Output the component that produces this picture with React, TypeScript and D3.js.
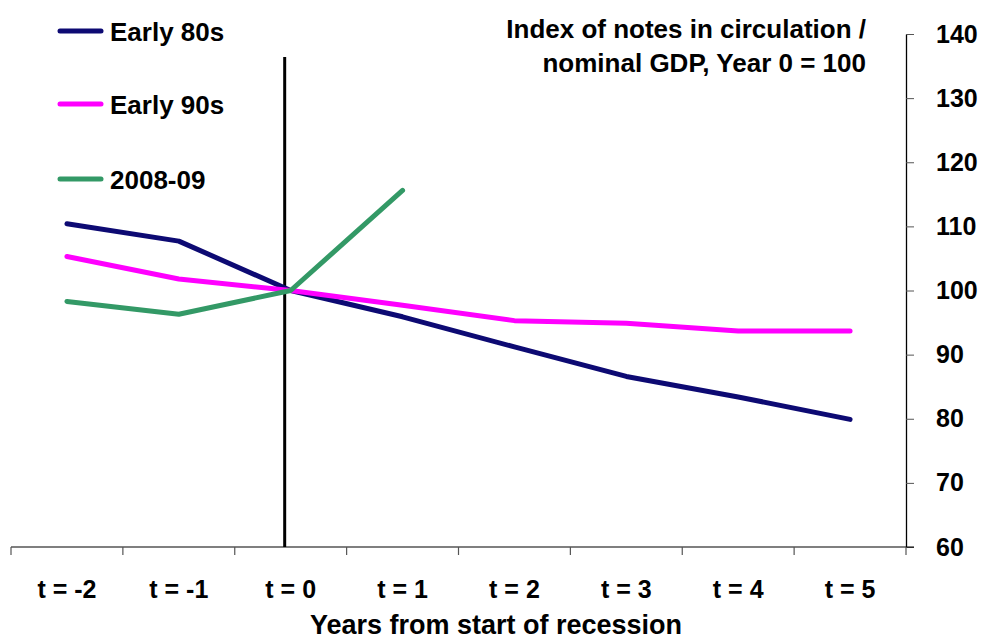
import React, { useEffect, useRef } from 'react'
import * as d3 from 'd3'

const categories = ['t = -2', 't = -1', 't = 0', 't = 1', 't = 2', 't = 3', 't = 4', 't = 5']
const early80s = [110.4, 107.7, 100, 95.9, 91.2, 86.6, 83.4, 79.9]
const early90s = [105.3, 101.8, 100, 97.7, 95.3, 94.9, 93.7, 93.7]
const crisis0809 = [98.3, 96.3, 100, 115.6]
const yTicks = [60, 70, 80, 90, 100, 110, 120, 130, 140]

const seriesList = [
  { name: 'Early 80s', values: early80s, color: '#0d0a73' },
  { name: 'Early 90s', values: early90s, color: '#ff00ff' },
  { name: '2008-09', values: crisis0809, color: '#339966' },
]

const titleLines = ['Index of notes in circulation /', 'nominal GDP, Year 0 = 100']
const xTitle = 'Years from start of recession'

export default function App() {
  const ref = useRef<SVGSVGElement>(null)

  useEffect(() => {
    const svg = d3.select(ref.current)
    svg.selectAll('*').remove()

    const width = 988
    const height = 639
    const left = 11, right = 906, top = 34, bottom = 547
    const font = '"Liberation Sans", Arial, sans-serif'

    const x = d3.scaleBand().domain(categories).range([left, right])
    const cx = (c: string) => (x(c) as number) + x.bandwidth() / 2
    const y = d3.scaleLinear().domain([60, 140]).range([bottom, top])

    svg.attr('width', width).attr('height', height)

    // right axis
    const yAxis = svg.append('g')
      .attr('transform', `translate(${right}, 0)`)
      .call(d3.axisRight(y).tickValues(yTicks).tickSize(8).tickSizeOuter(0).tickPadding(22))
    yAxis.select('.domain').attr('stroke', '#000').attr('stroke-width', 1.3)
    yAxis.selectAll('.tick line').attr('stroke', '#555')
    yAxis.selectAll('.tick text')
      .attr('font-family', font).attr('font-size', 25).attr('font-weight', 'bold').attr('fill', '#000')

    // bottom axis
    const xAxis = svg.append('g')
    xAxis.append('line')
      .attr('x1', left).attr('x2', right + 8)
      .attr('y1', bottom).attr('y2', bottom)
      .attr('stroke', '#000').attr('stroke-width', 1.2)
    const bounds = categories.map(c => x(c) as number).concat([right])
    xAxis.selectAll('line.tk').data(bounds).enter().append('line')
      .attr('class', 'tk')
      .attr('x1', d => d).attr('x2', d => d)
      .attr('y1', bottom).attr('y2', bottom + 8)
      .attr('stroke', '#555').attr('stroke-width', 1.2)
    xAxis.selectAll('text').data(categories).enter().append('text')
      .attr('x', d => cx(d))
      .attr('y', 598)
      .attr('text-anchor', 'middle')
      .attr('font-family', font).attr('font-size', 25).attr('font-weight', 'bold')
      .text(d => d)

    svg.append('text')
      .attr('x', 496)
      .attr('y', 634)
      .attr('text-anchor', 'middle')
      .attr('font-family', font).attr('font-size', 27).attr('font-weight', 'bold')
      .text(xTitle)

    // recession start marker
    svg.append('line')
      .attr('x1', cx('t = 0') - 6).attr('x2', cx('t = 0') - 6)
      .attr('y1', 57).attr('y2', bottom)
      .attr('stroke', '#000').attr('stroke-width', 3)

    const line = d3.line<number>()
      .x((_, i) => cx(categories[i]))
      .y(d => y(d))

    seriesList.forEach(s => {
      svg.append('path')
        .datum(s.values)
        .attr('d', line)
        .attr('fill', 'none')
        .attr('stroke', s.color)
        .attr('stroke-width', 5)
        .attr('stroke-linejoin', 'round')
        .attr('stroke-linecap', 'round')
    })

    // legend
    const legendY = [31, 104, 179]
    seriesList.forEach((s, i) => {
      svg.append('line')
        .attr('x1', 60).attr('x2', 101)
        .attr('y1', legendY[i]).attr('y2', legendY[i])
        .attr('stroke', s.color).attr('stroke-width', 5).attr('stroke-linecap', 'round')
      svg.append('text')
        .attr('x', 110).attr('y', legendY[i] + 10)
        .attr('font-family', font).attr('font-size', 26).attr('font-weight', 'bold')
        .text(s.name)
    })

    // title
    titleLines.forEach((t, i) => {
      svg.append('text')
        .attr('x', 866).attr('y', 38 + i * 34)
        .attr('text-anchor', 'end')
        .attr('font-family', font).attr('font-size', 26).attr('font-weight', 'bold')
        .text(t)
    })
  }, [])

  return (
    <svg ref={ref} style={{ position: 'absolute', left: 0, top: 0, display: 'block', background: '#fff' }} />
  )
}
